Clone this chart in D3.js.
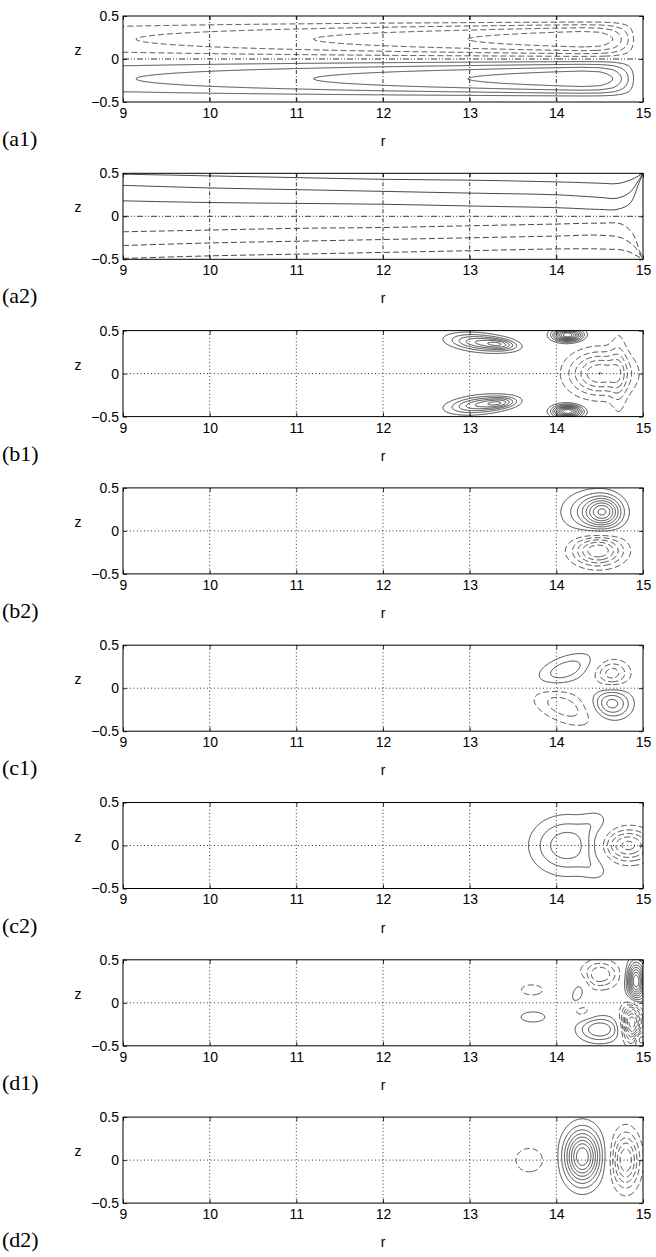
<!DOCTYPE html>
<html>
<head>
<meta charset="utf-8">
<script src="https://cdn.jsdelivr.net/npm/d3@7"></script>
<style>
  body { margin: 0; background: #fff; }
  svg { display: block; }
</style>
</head>
<body>
<svg id="fig" width="656" height="1257"></svg>
<script>
// ---------- axes ----------
const rTicks = [9, 10, 11, 12, 13, 14, 15];
const zTicks = [-0.5, 0, 0.5];
const gridR = [10, 11, 12, 13, 14];
const panelNames = ["(a1)", "(a2)", "(b1)", "(b2)", "(c1)", "(c2)", "(d1)", "(d2)"];

// ---------- (a1): amplitude of the two counter-rotating cells along r ----------
const a1ProfileR = [9, 9.15, 11.2, 12.98, 14.3, 14.5, 14.65, 14.75, 14.83, 14.89, 15];
const a1ProfileA = [1.95, 2.0, 3.0, 4.0, 4.9, 4.7, 4.0, 3.0, 2.0, 1.0, 0.0];

// ---------- (a2): iso-lines, [r, z] ----------
const a2Solid = [
  [[9, 0.49], [10, 0.47], [11, 0.45], [12, 0.43], [13, 0.42], [14, 0.40], [14.5, 0.385], [14.7, 0.38], [14.85, 0.42], [14.95, 0.47], [15, 0.5]],
  [[9, 0.36], [10, 0.33], [11, 0.31], [12, 0.29], [13, 0.27], [14, 0.25], [14.5, 0.22], [14.7, 0.21], [14.85, 0.28], [14.95, 0.42], [15, 0.5]],
  [[9, 0.18], [10, 0.16], [11, 0.15], [12, 0.14], [13, 0.12], [14, 0.10], [14.5, 0.08], [14.7, 0.08], [14.85, 0.15], [14.95, 0.38], [15, 0.5]]
];
const a2Dashed = [
  [[9, -0.18], [10, -0.16], [11, -0.14], [12, -0.13], [13, -0.11], [14, -0.09], [14.5, -0.08], [14.75, -0.09], [14.88, -0.2], [14.96, -0.4], [15, -0.5]],
  [[9, -0.34], [10, -0.31], [11, -0.29], [12, -0.27], [13, -0.25], [14, -0.23], [14.5, -0.22], [14.75, -0.25], [14.9, -0.35], [14.97, -0.45], [15, -0.5]],
  [[9, -0.49], [10, -0.46], [11, -0.44], [12, -0.42], [13, -0.40], [14, -0.38], [14.5, -0.38], [14.8, -0.4], [14.93, -0.46], [15, -0.5]]
];

// ---------- Gaussian cells: [r0, z0, width r, width z, amplitude, tilt] ----------
const b1Cells = [
  [13.12, 0.36, 0.24, 0.065, 5, -0.1],
  [13.36, 0.34, 0.12, 0.04, 3, -0.1],
  [13.12, -0.36, 0.24, 0.065, 5, 0.1],
  [13.36, -0.34, 0.12, 0.04, 3, 0.1],
  [14.13, 0.45, 0.11, 0.05, 10, 0],
  [14.13, -0.44, 0.11, 0.05, 10, 0],
  [14.50, 0.0, 0.24, 0.17, -6, 0],
  [14.72, 0.0, 0.07, 0.42, -1.5, 0]
];
const b2Cells = [
  [14.55, 0.22, 0.14, 0.12, 6, 0],
  [14.38, 0.22, 0.22, 0.16, 3, 0],
  [14.48, -0.23, 0.20, 0.12, -6, 0]
];
const c1Cells = [
  [14.10, 0.21, 0.255, 0.11, 2.7, 0.37],
  [14.08, -0.21, 0.28, 0.13, -2.6, -0.4],
  [14.64, 0.17, 0.14, 0.11, -3.6, 0],
  [14.64, -0.18, 0.15, 0.12, 4.5, 0]
];
const c2Cells = [
  [14.12, 0.0, 0.27, 0.22, 3.8, 0],
  [14.45, 0.28, 0.12, 0.09, 1.0, 0.4],
  [14.45, -0.28, 0.12, 0.09, 1.0, -0.4],
  [14.82, 0.0, 0.20, 0.13, -5.5, 0]
];
const d1Cells = [
  [13.72, 0.15, 0.125, 0.06, -1.6, 0],
  [13.73, -0.165, 0.14, 0.06, 1.6, 0],
  [14.26, 0.14, 0.145, 0.062, 1.6, 1.2],
  [14.50, 0.33, 0.15, 0.11, -4, 0],
  [14.29, -0.10, 0.10, 0.06, -1.6, 0],
  [14.50, -0.31, 0.17, 0.10, 4, 0],
  [14.92, 0.25, 0.07, 0.15, 9, 0],
  [14.87, -0.23, 0.08, 0.15, -8, 0],
  [14.97, -0.42, 0.04, 0.05, 3, 0]
];
const d2Cells = [
  [13.69, 0.0, 0.16, 0.14, -1.6, 0],
  [14.30, 0.04, 0.14, 0.21, 9, 0],
  [14.80, 0.0, 0.11, 0.22, -6, 0]
];

const levels = d3.range(1, 15);

// ---------- layout ----------
const left = 123, right = 643, plotH = 86, top0 = 16, step = 157.3;
const svg = d3.select("#fig");
const x = d3.scaleLinear([9, 15], [left, right]);
const y = d3.scaleLinear([-0.5, 0.5], [plotH, 0]);

function cellField(cells) {
  return (r, z) => {
    let s = 0;
    for (const [r0, z0, sr, sz, a, t] of cells) {
      const dr = r - r0, dz = z - z0;
      const u = dr * Math.cos(t) + dz * Math.sin(t);
      const v = -dr * Math.sin(t) + dz * Math.cos(t);
      s += a * Math.exp(-(u * u) / (2 * sr * sr) - (v * v) / (2 * sz * sz));
    }
    return s;
  };
}

const a1Amp = d3.scaleLinear(a1ProfileR, a1ProfileA).clamp(true);
function a1Field(r, z) {
  const az = Math.abs(z);
  const h = az < 0.46 ? Math.sin(Math.PI * az / 0.46) : 0;
  return -Math.sign(z) * a1Amp(r) * h;
}

const nx = 721, ny = 121;
const dr = 6 / (nx - 1), dz = 1 / (ny - 1);

function drawContours(g, field) {
  const vals = new Float64Array(nx * ny);
  for (let j = 0; j < ny; j++) {
    const z = 0.5 - j * dz;
    for (let i = 0; i < nx; i++) vals[j * nx + i] = field(9 + i * dr, z);
  }
  const neg = vals.map(v => -v);
  const proj = d3.geoTransform({
    point(px, py) { this.stream.point(x(9 + (px - 0.5) * dr), y(0.5 - (py - 0.5) * dz)); }
  });
  const path = d3.geoPath(proj);
  const gen = d3.contours().size([nx, ny]).thresholds(levels);
  g.selectAll(null).data(gen(vals)).join("path")
    .attr("d", path).attr("fill", "none")
    .attr("stroke", "#333").attr("stroke-width", 0.9);
  g.selectAll(null).data(gen(Array.from(neg))).join("path")
    .attr("d", path).attr("fill", "none")
    .attr("stroke", "#333").attr("stroke-width", 0.9)
    .attr("stroke-dasharray", "6,3");
}

const line = d3.line().x(d => x(d[0])).y(d => y(d[1])).curve(d3.curveCatmullRom);

const panels = [
  { kind: "a1" }, { kind: "a2" },
  { cells: b1Cells }, { cells: b2Cells },
  { cells: c1Cells }, { cells: c2Cells },
  { cells: d1Cells }, { cells: d2Cells }
];

panels.forEach((p, k) => {
  const g = svg.append("g").attr("transform", `translate(0,${top0 + k * step})`);
  const clipId = "clip" + k;
  g.append("clipPath").attr("id", clipId)
    .append("rect").attr("x", left).attr("y", 0).attr("width", right - left).attr("height", plotH);

  const dashGrid = k < 2 ? "4,2,1,2" : "1,2.5";
  // grid
  g.append("g").selectAll("line").data(gridR).join("line")
    .attr("x1", d => x(d)).attr("x2", d => x(d)).attr("y1", 0).attr("y2", plotH)
    .attr("stroke", "#000").attr("stroke-width", 0.8).attr("stroke-dasharray", dashGrid);
  g.append("line").attr("x1", left).attr("x2", right).attr("y1", y(0)).attr("y2", y(0))
    .attr("stroke", "#000").attr("stroke-width", 0.8)
    .attr("stroke-dasharray", k < 2 ? "6,2,1,2,1,2" : "1,2.5");

  const cg = g.append("g").attr("clip-path", `url(#${clipId})`);
  if (p.kind === "a1") {
    drawContours(cg, a1Field);
  } else if (p.kind === "a2") {
    cg.selectAll(".s").data(a2Solid).join("path").attr("class", "s")
      .attr("d", line).attr("fill", "none").attr("stroke", "#333").attr("stroke-width", 0.9);
    cg.selectAll(".n").data(a2Dashed).join("path").attr("class", "n")
      .attr("d", line).attr("fill", "none").attr("stroke", "#333").attr("stroke-width", 0.9)
      .attr("stroke-dasharray", "6,3");
  } else {
    drawContours(cg, cellField(p.cells));
  }

  // axes
  const xb = g.append("g").attr("transform", `translate(0,${plotH})`)
    .call(d3.axisBottom(x).tickValues(rTicks).tickFormat(d3.format("d")).tickSize(-4).tickPadding(6));
  const xt = g.append("g")
    .call(d3.axisTop(x).tickValues(rTicks).tickFormat("").tickSize(-4));
  const yl = g.append("g").attr("transform", `translate(${left},0)`)
    .call(d3.axisLeft(y).tickValues(zTicks).tickFormat(d => d === 0 ? "0" : d3.format(".1f")(d)).tickSize(-4).tickPadding(4));
  const yr = g.append("g").attr("transform", `translate(${right},0)`)
    .call(d3.axisRight(y).tickValues(zTicks).tickFormat("").tickSize(-4));
  [xb, xt, yl, yr].forEach(a => {
    a.select(".domain").remove();
    a.selectAll("line").attr("stroke", "#000").attr("stroke-width", 0.8);
    a.selectAll("text").attr("font-family", "Liberation Sans, Arial, sans-serif")
      .attr("font-size", 14).attr("fill", "#000");
  });

  g.append("rect").attr("x", left).attr("y", 0).attr("width", right - left).attr("height", plotH)
    .attr("fill", "none").attr("stroke", "#000").attr("stroke-width", 1);

  g.append("text").attr("x", 78).attr("y", y(0) - 4).attr("text-anchor", "middle")
    .attr("font-family", "Liberation Sans, Arial, sans-serif").attr("font-size", 14).text("z");
  g.append("text").attr("x", (left + right) / 2).attr("y", plotH + 44).attr("text-anchor", "middle")
    .attr("font-family", "Liberation Sans, Arial, sans-serif").attr("font-size", 14).text("r");
  g.append("text").attr("x", 2).attr("y", plotH + 44)
    .attr("font-family", "Liberation Serif, 'DejaVu Serif', serif").attr("font-size", 22).text(panelNames[k]);
});
</script>
</body>
</html>
